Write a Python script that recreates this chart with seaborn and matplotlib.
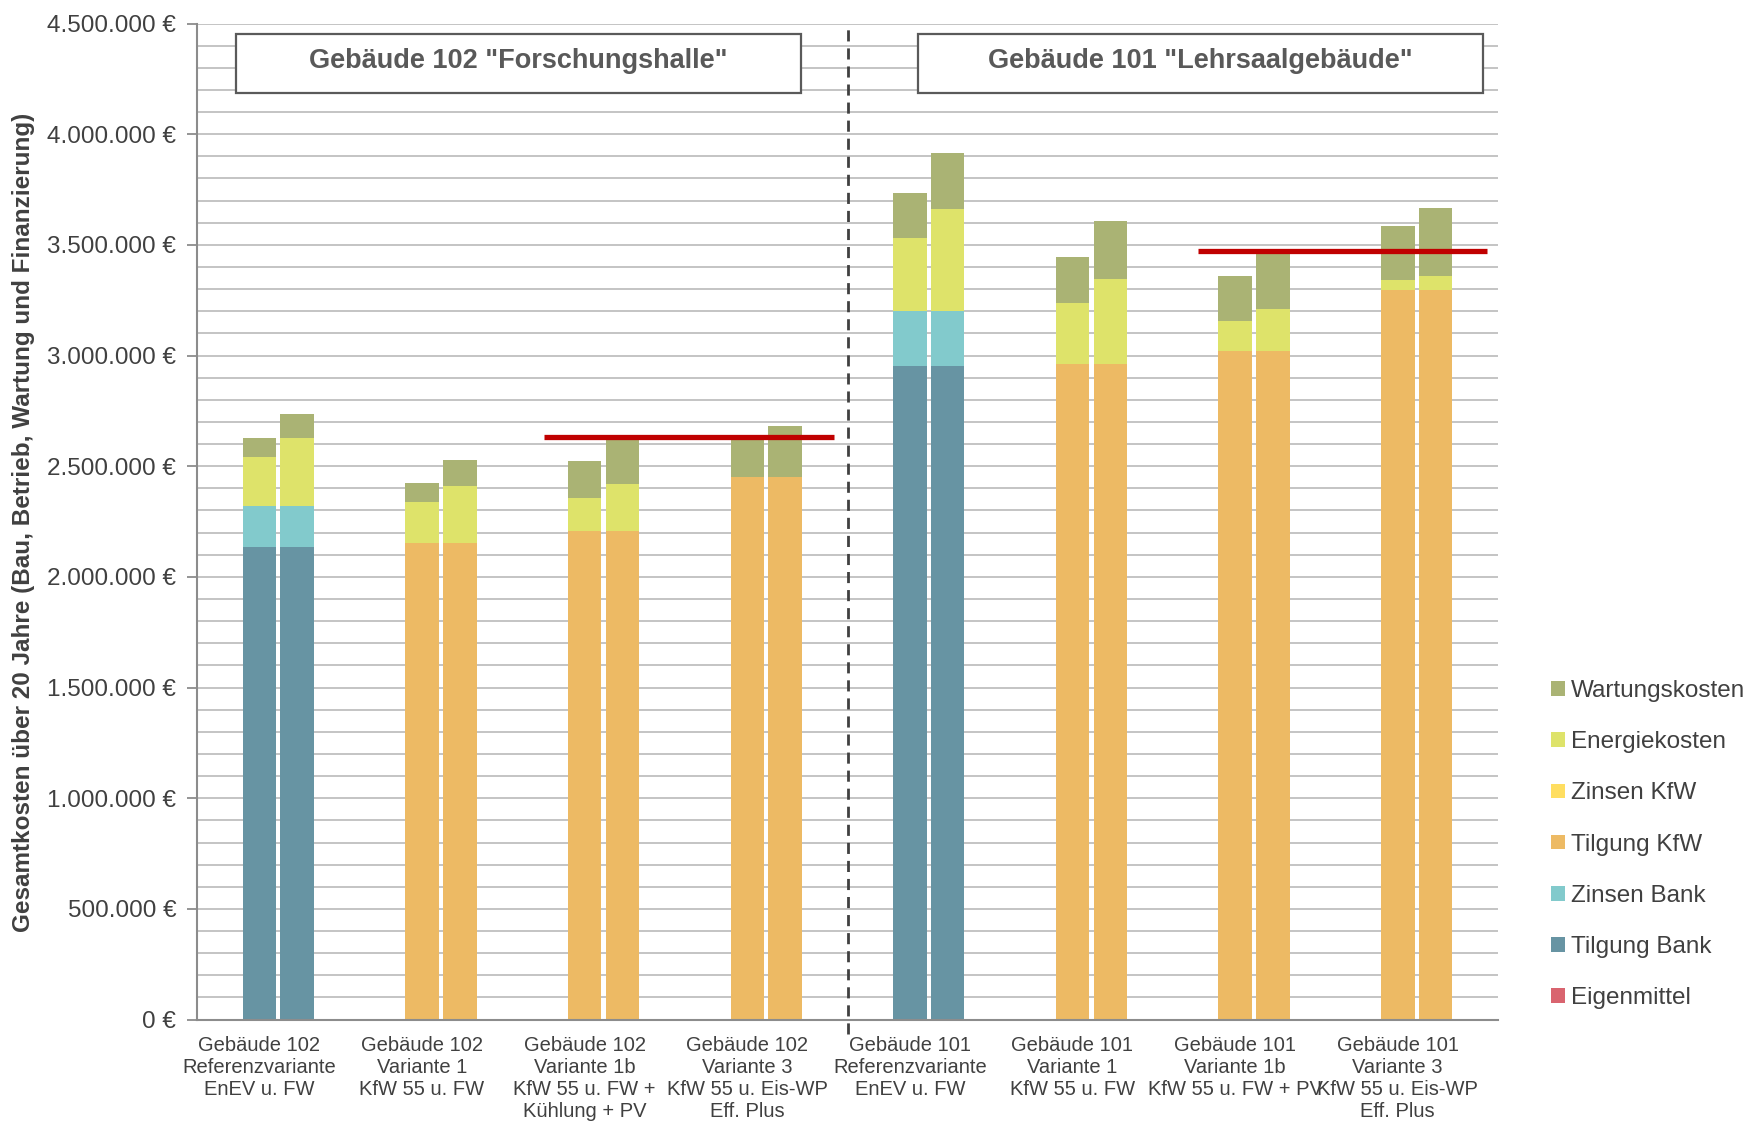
import matplotlib
matplotlib.use("Agg")
import matplotlib.pyplot as plt
import numpy as np
import pandas as pd
import seaborn as sns
from matplotlib.patches import Patch, Rectangle
from matplotlib.ticker import FuncFormatter, MultipleLocator

sns.set_theme(style="white")
plt.rcParams["font.family"] = ["Liberation Sans", "DejaVu Sans"]

# --- Kategorien (Gebäude / Varianten) ---------------------------------------
kategorien = [
    "Gebäude 102\nReferenzvariante\nEnEV u. FW",
    "Gebäude 102\nVariante 1\nKfW 55 u. FW",
    "Gebäude 102\nVariante 1b\nKfW 55 u. FW +\nKühlung + PV",
    "Gebäude 102\nVariante 3\nKfW 55 u. Eis-WP\nEff. Plus",
    "Gebäude 101\nReferenzvariante\nEnEV u. FW",
    "Gebäude 101\nVariante 1\nKfW 55 u. FW",
    "Gebäude 101\nVariante 1b\nKfW 55 u. FW + PV",
    "Gebäude 101\nVariante 3\nKfW 55 u. Eis-WP\nEff. Plus",
]
szenarien = ["Szenario A", "Szenario B"]

# --- Kostenanteile in Euro (je Szenario, je Kategorie) -----------------------
eigenmittel_a    = [0, 0, 0, 0, 0, 0, 0, 0]
eigenmittel_b    = [0, 0, 0, 0, 0, 0, 0, 0]
tilgung_bank_a   = [2137000, 0, 0, 0, 2953000, 0, 0, 0]
tilgung_bank_b   = [2137000, 0, 0, 0, 2953000, 0, 0, 0]
zinsen_bank_a    = [182000, 0, 0, 0, 250000, 0, 0, 0]
zinsen_bank_b    = [182000, 0, 0, 0, 250000, 0, 0, 0]
tilgung_kfw_a    = [0, 2152000, 2209000, 2452000, 0, 2962000, 3021000, 3297000]
tilgung_kfw_b    = [0, 2152000, 2209000, 2452000, 0, 2962000, 3021000, 3297000]
zinsen_kfw_a     = [0, 0, 0, 0, 0, 0, 0, 0]
zinsen_kfw_b     = [0, 0, 0, 0, 0, 0, 0, 0]
energiekosten_a  = [222000, 187000, 148000, -8000, 327000, 277000, 134000, 45000]
energiekosten_b  = [308000, 259000, 210000, -8000, 458000, 384000, 187000, 64000]
wartungskosten_a = [86000, 87000, 166000, 169000, 205000, 205000, 206000, 244000]
wartungskosten_b = [108000, 115000, 202000, 231000, 256000, 261000, 257000, 305000]

# Budgetgrenzen je Gebäude
budget_102 = 2630000
budget_101 = 3470000

schichten = ["Eigenmittel", "Tilgung Bank", "Zinsen Bank", "Tilgung KfW",
             "Zinsen KfW", "Energiekosten", "Wartungskosten"]
farben = {
    "Eigenmittel": "#D9646F",
    "Tilgung Bank": "#6794A3",
    "Zinsen Bank": "#82CACC",
    "Tilgung KfW": "#EDBA64",
    "Zinsen KfW": "#FFDE60",
    "Energiekosten": "#DEE36A",
    "Wartungskosten": "#AAB374",
}
werte = {
    "Eigenmittel": (eigenmittel_a, eigenmittel_b),
    "Tilgung Bank": (tilgung_bank_a, tilgung_bank_b),
    "Zinsen Bank": (zinsen_bank_a, zinsen_bank_b),
    "Tilgung KfW": (tilgung_kfw_a, tilgung_kfw_b),
    "Zinsen KfW": (zinsen_kfw_a, zinsen_kfw_b),
    "Energiekosten": (energiekosten_a, energiekosten_b),
    "Wartungskosten": (wartungskosten_a, wartungskosten_b),
}

rows = []
for i, kat in enumerate(kategorien):
    for s, sz in enumerate(szenarien):
        row = {"kategorie": kat, "szenario": sz}
        for sch in schichten:
            row[sch] = werte[sch][s][i]
        rows.append(row)
df = pd.DataFrame(rows)

# kumulierte Höhen (nur positive Anteile werden gestapelt)
pos = df[schichten].clip(lower=0).cumsum(axis=1)
for sch in schichten:
    df["cum_" + sch] = pos[sch]
df["neg_energie"] = df["Energiekosten"].clip(upper=0)

TXT = "#404040"
fig = plt.figure(figsize=(17.53, 11.21), dpi=100)
ax = fig.add_axes([197 / 1753, 1 - 1019.6 / 1121,
                   (1498 - 197) / 1753, (1019.6 - 23.5) / 1121])

bar_kw = dict(x="kategorie", hue="szenario", order=kategorien,
              hue_order=szenarien, width=0.465, gap=0.114, legend=False,
              errorbar=None, saturation=1, linewidth=0, ax=ax)

# von oben nach unten zeichnen, damit untere Schichten die oberen überdecken
for sch in reversed(schichten):
    sns.barplot(data=df, y="cum_" + sch,
                palette=[farben[sch], farben[sch]], **bar_kw)
sns.barplot(data=df, y="neg_energie",
            palette=[farben["Energiekosten"]] * 2, **bar_kw)

ax.set_xlim(-0.5, 7.5)
ax.set_ylim(0, 4500000)
ax.set_axisbelow(True)
ax.yaxis.set_major_locator(MultipleLocator(500000))
ax.yaxis.set_minor_locator(MultipleLocator(100000))
ax.yaxis.set_major_formatter(
    FuncFormatter(lambda v, p: f"{int(v):,} €".replace(",", ".")))
ax.grid(True, axis="y", which="both", color="#C4C4C4", linewidth=1.4)
ax.grid(False, axis="x")

# Beschriftungen sitzen leicht links der Balkenmitte
ax.set_xticks(np.arange(len(kategorien)) - 0.117)
ax.set_xticklabels(kategorien, fontsize=14.5, color=TXT, linespacing=1.19,
                   va="top")
ax.set_xticks(np.arange(-0.5, 8.0, 1.0), minor=True)
ax.tick_params(axis="x", which="major", length=0, pad=12)
ax.tick_params(axis="x", which="minor", length=7, width=1.3,
               color="#8C8C8C", direction="out")
ax.tick_params(axis="y", which="major", length=7, width=1.3,
               color="#8C8C8C", labelsize=17.5, labelcolor=TXT, pad=8,
               left=True)
ax.tick_params(axis="y", which="minor", length=0)
ax.set_xlabel("")
ax.set_ylabel("")

for side in ["top", "right"]:
    ax.spines[side].set_visible(False)
for side in ["left", "bottom"]:
    ax.spines[side].set_color("#8C8C8C")
    ax.spines[side].set_linewidth(1.5)

# Trennlinie zwischen den Gebäuden
ax.plot([3.5, 3.5], [-65000, 4500000], ls=(0, (4, 2.5)), color="#404040",
        lw=2, clip_on=False, zorder=5)

# Budgetlinien
ax.plot([1.634, 3.417], [budget_102, budget_102], color="#C00000", lw=3.8,
        zorder=6, solid_capstyle="butt")
ax.plot([5.655, 7.431], [budget_101, budget_101], color="#C00000", lw=3.8,
        zorder=6, solid_capstyle="butt")

# Überschriften-Kästen
for x0, x1, txt in [(-0.261, 3.212, 'Gebäude 102 "Forschungshalle"'),
                    (3.934, 7.406, 'Gebäude 101 "Lehrsaalgebäude"')]:
    ax.add_patch(Rectangle((x0, 4187000), x1 - x0, 267000, facecolor="white",
                           edgecolor="#5A5A5A", linewidth=1.6, zorder=4))
    ax.text((x0 + x1) / 2, 4332000, txt, ha="center", va="center",
            fontsize=19.5, fontweight="bold", color="#595959", zorder=5)

fig.text(24 / 1753, 1 - 522 / 1121,
         "Gesamtkosten über 20 Jahre (Bau, Betrieb, Wartung und Finanzierung)",
         rotation=90, ha="center", va="center", fontsize=17.5,
         fontweight="bold", color=TXT)

handles = [Patch(facecolor=farben[s], edgecolor="none")
           for s in reversed(schichten)]
fig.legend(handles, list(reversed(schichten)), loc="upper left",
           bbox_to_anchor=(1539 / 1753, 1 - 668 / 1121), frameon=False,
           fontsize=17.5, handlelength=0.55, handleheight=0.55,
           handletextpad=0.25, labelspacing=1.2, borderpad=0,
           labelcolor=TXT)

fig.savefig("out.png", dpi=100)
